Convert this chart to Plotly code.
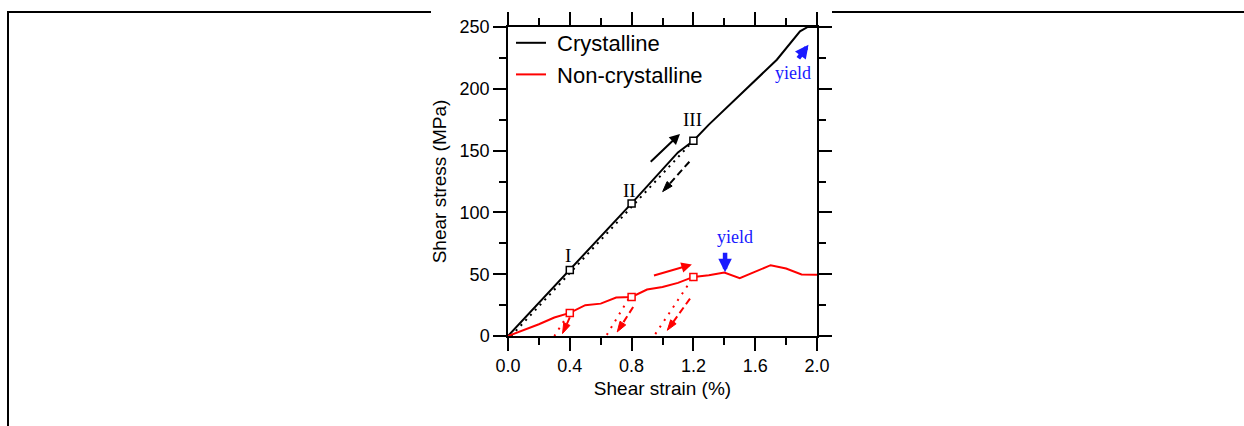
import plotly.graph_objects as go

# ---- data ----
cryst_strain = [0, 0.4, 0.8, 1.1, 1.2, 1.3, 1.4, 1.55, 1.63, 1.74, 1.89, 1.94, 2.0]
cryst_stress = [0, 53.3, 107.3, 148.5, 158, 171, 183, 201, 210, 223.5, 246.5, 250, 250]

noncryst_strain = [0, 0.1, 0.2, 0.3, 0.4, 0.5, 0.6, 0.7, 0.8, 0.9, 1.0,
                   1.1, 1.2, 1.3, 1.4, 1.5, 1.6, 1.7, 1.8, 1.9, 2.0]
noncryst_stress = [0, 4.6, 9.5, 15, 18.7, 24.9, 26.2, 31.1, 31.6, 37.6, 39.7,
                   43, 47.8, 49.2, 51.4, 46.8, 52, 57.3, 54.6, 49.8, 49.5]

marker_strain = [0.4, 0.8, 1.2]
cryst_marker_stress = [53.3, 107.3, 158]
noncryst_marker_stress = [18.7, 31.6, 47.8]

# unloading (dotted) paths
cryst_unload_strain = [0.02, 1.2]
cryst_unload_stress = [0, 158]
nc_unload_strain = [[0.39, 0.30], [0.78, 0.635], [1.19, 0.945]]
nc_unload_stress = [[17.5, 0], [30, 0], [46, 0]]

# dashed arrows (start -> end)
cryst_dash_arrow = [(1.174, 141), (1.001, 116.8)]
nc_dash_arrows = [[(0.40, 15), (0.353, 2)],
                  [(0.81, 23.5), (0.707, 3.3)],
                  [(1.178, 30.3), (1.031, 4.6)]]

# solid arrows (start -> end)
cryst_load_arrow = [(0.914, 139.8), (1.113, 163.5)]
nc_load_arrow = [(0.935, 48.6), (1.19, 57.8)]
yield_arrows = [[(1.405, 68.5), (1.405, 51.5)], [(1.872, 223.5), (1.945, 235.7)]]

stage_labels = ["I", "II", "III"]
stage_label_pos = [(0.389, 65), (0.785, 117.6), (1.193, 175)]
yield_label_pos = [(1.47, 80), (1.844, 212.8)]

x_ticks = [0.0, 0.4, 0.8, 1.2, 1.6, 2.0]
y_ticks = [0, 50, 100, 150, 200, 250]

BLACK = "black"
RED = "#ff0000"
BLUE = "#1a1aff"
SANS = "Liberation Sans, Arial, sans-serif"
SERIF = "Liberation Serif, Times New Roman, serif"

fig = go.Figure()

# dotted unloading lines
fig.add_trace(go.Scatter(x=cryst_unload_strain, y=cryst_unload_stress, mode="lines",
                         line=dict(color=BLACK, width=2, dash="2px,5px"),
                         showlegend=False, hoverinfo="skip"))
for xs, ys in zip(nc_unload_strain, nc_unload_stress):
    fig.add_trace(go.Scatter(x=xs, y=ys, mode="lines",
                             line=dict(color=RED, width=2, dash="2px,6px"),
                             showlegend=False, hoverinfo="skip"))

# dashed arrows: dashed shaft + arrow-symbol head at the end
for (s, e), col in [(cryst_dash_arrow, BLACK)] + [(a, RED) for a in nc_dash_arrows]:
    fig.add_trace(go.Scatter(x=[s[0], e[0]], y=[s[1], e[1]], mode="lines+markers",
                             line=dict(color=col, width=2, dash="7px,4px"),
                             marker=dict(symbol="arrow", size=[0, 11], color=col, opacity=1,
                                         angleref="previous", line=dict(width=1, color=col)),
                             showlegend=False, hoverinfo="skip"))

# main curves
fig.add_trace(go.Scatter(x=cryst_strain, y=cryst_stress, mode="lines", name="\u00a0Crystalline",
                         line=dict(color=BLACK, width=2)))
fig.add_trace(go.Scatter(x=noncryst_strain, y=noncryst_stress, mode="lines",
                         name="\u00a0Non-crystalline", line=dict(color=RED, width=2)))

# open square markers
fig.add_trace(go.Scatter(x=marker_strain, y=cryst_marker_stress, mode="markers",
                         marker=dict(symbol="square", size=7, color="white",
                                     line=dict(color=BLACK, width=1.5)),
                         showlegend=False, hoverinfo="skip"))
fig.add_trace(go.Scatter(x=marker_strain, y=noncryst_marker_stress, mode="markers",
                         marker=dict(symbol="square", size=7, color="white",
                                     line=dict(color=RED, width=1.5)),
                         showlegend=False, hoverinfo="skip"))

annotations = []


def arrow(start, end, color, width, size, head=2):
    annotations.append(dict(x=end[0], y=end[1], ax=start[0], ay=start[1],
                            xref="x", yref="y", axref="x", ayref="y", text="",
                            showarrow=True, arrowhead=head, arrowsize=size,
                            arrowwidth=width, arrowcolor=color, standoff=0))


arrow(*cryst_load_arrow, BLACK, 2, 1.05)
arrow(*nc_load_arrow, RED, 2, 1.05)
for a in yield_arrows:
    arrow(*a, BLUE, 4.5, 0.6)

for txt, (x, y) in zip(stage_labels, stage_label_pos):
    annotations.append(dict(x=x, y=y, xref="x", yref="y", text=txt, showarrow=False,
                            font=dict(family=SERIF, size=19, color=BLACK)))
for (x, y) in yield_label_pos:
    annotations.append(dict(x=x, y=y, xref="x", yref="y", text="yield", showarrow=False,
                            font=dict(family=SERIF, size=18, color=BLUE)))

# outer frame (pixel positions converted to paper coords)
L, R, T, B = 508, 427, 27, 90
W, H = 1244, 426
pw, ph = W - L - R, H - T - B


def px(xp):
    return (xp - L) / pw


def py(yp):
    return (H - B - yp) / ph


shapes = [
    dict(type="line", xref="paper", yref="paper", x0=px(8), x1=px(431), y0=py(12), y1=py(12),
         line=dict(color="black", width=2)),
    dict(type="line", xref="paper", yref="paper", x0=px(832), x1=px(1245), y0=py(12), y1=py(12),
         line=dict(color="black", width=2)),
    dict(type="line", xref="paper", yref="paper", x0=px(8), x1=px(8), y0=py(11), y1=py(427),
         line=dict(color="black", width=2)),
]

axis_common = dict(showline=True, linecolor="black", linewidth=1.5, mirror="ticks",
                   ticks="outside", ticklen=13, tickwidth=1.5, tickcolor="black",
                   showgrid=False, zeroline=False,
                   tickfont=dict(family=SANS, size=18, color="black"))

fig.update_layout(
    width=W, height=H,
    margin=dict(l=L, r=R, t=T, b=B, autoexpand=False),
    plot_bgcolor="white", paper_bgcolor="white",
    xaxis=dict(range=[0, 2.0], tickvals=x_ticks, ticktext=[f"{v:.1f}" for v in x_ticks],
               minor=dict(ticks="outside", ticklen=7, tickwidth=1.5, tickcolor="black", dtick=0.2,
                          tick0=0, showgrid=False),
               title=dict(text="Shear strain (%)", font=dict(family=SANS, size=19, color="black"),
                          standoff=6),
               **axis_common),
    yaxis=dict(range=[0, 250], tickvals=y_ticks,
               minor=dict(ticks="outside", ticklen=7, tickwidth=1.5, tickcolor="black", dtick=25,
                          tick0=0, showgrid=False),
               title=dict(text="Shear stress (MPa)", font=dict(family=SANS, size=19, color="black"),
                          standoff=8),
               **axis_common),
    legend=dict(x=px(511), y=py(22), xanchor="left", yanchor="top", bgcolor="rgba(0,0,0,0)",
                font=dict(family=SANS, size=22, color="black"), tracegroupgap=0,
                itemwidth=30),
    annotations=annotations,
    shapes=shapes,
    font=dict(family=SANS),
)

fig.write_html("out.html")
